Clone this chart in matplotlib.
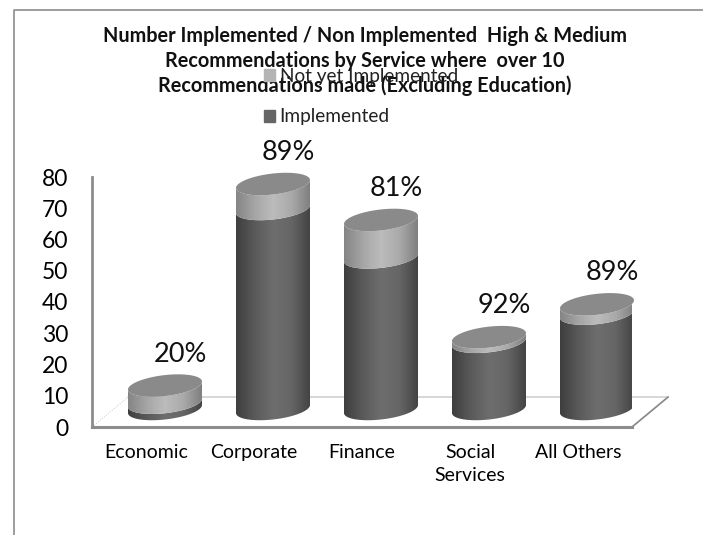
import matplotlib
matplotlib.use("Agg")
import matplotlib.pyplot as plt
import numpy as np
from matplotlib.patches import Patch, PathPatch
from matplotlib.path import Path

plt.rcParams["font.family"] = ["Lato", "DejaVu Sans"]

categories = ["Economic", "Corporate", "Finance", "Social\nServices", "All Others"]
implemented = [2, 64, 48.5, 21.5, 30.5]
not_implemented = [5.5, 8, 12, 1.5, 3]
percent_labels = ["20%", "89%", "81%", "92%", "89%"]
y_ticks = [0, 10, 20, 30, 40, 50, 60, 70, 80]

title = ("Number Implemented / Non Implemented  High & Medium\n"
         "Recommendations by Service where  over 10\n"
         "Recommendations made (Excluding Education)")

W, H = 703, 535
PX = 108.0  # pixels per category
PY = 250 / 80  # pixels per y unit
RX = 37 / PX
RY = 10.5 / PY
TILT = 4 / PY
DEPTH_X = 19 / PX
DEPTH_Y = 18 / PY

DARK = ["#3f3f3f", "#5a5a5a", "#6e6e6e", "#666666", "#444444"]
LIGHT = ["#858585", "#a5a5a5", "#bcbcbc", "#aaaaaa", "#808080"]
TOP = "#8a8a8a"


def shade_image(ax, colors, cx, y0, y1, clip):
    grey = [int(c[1:3], 16) / 255 for c in colors]
    ramp = np.interp(np.linspace(0, 1, 80), np.linspace(0, 1, len(grey)), grey)
    im = ax.imshow(ramp[None, :], cmap="gray", vmin=0, vmax=1, aspect="auto",
                   extent=(cx - RX, cx + RX, y0, y1), zorder=3)
    im.set_clip_path(clip)


def side_path(cx, y0, y1):
    # lower rim of y0 ellipse, then back over upper-side of y1's lower rim
    t = np.linspace(np.pi, 2 * np.pi, 60)
    xs = cx + RX * np.cos(t)
    low = RY * np.sin(t) + TILT * np.cos(t)
    x_all = np.r_[xs, xs[::-1]]
    y_all = np.r_[y0 + low, (y1 + low)[::-1]]
    return Path(np.column_stack([x_all, y_all]))


fig = plt.figure(figsize=(W / 100, H / 100), dpi=100)
ax = fig.add_axes([92 / W, 1 - 427 / H, 540 / W, 250 / H])
ax.set_facecolor("none")

# outer chart frame
fig.add_artist(plt.Line2D([14 / W, 14 / W, 1], [0, 1 - 10 / H, 1 - 10 / H],
                          color="#8c8c8c", lw=1.2))

# floor of the 3D plot
floor_dx = 2 * DEPTH_X * 0.95
floor_dy = 30 / PY
ax.plot([-0.5, 4.5, 4.5 + floor_dx, -0.5 + floor_dx],
        [0, 0, floor_dy, floor_dy], color="#c8c8c8", lw=1, clip_on=False, zorder=1)
ax.plot([-0.5, 4.5], [0, 0], color="#8c8c8c", lw=2.2, clip_on=False, zorder=2)
ax.plot([-0.5, -0.5 + floor_dx], [0, floor_dy], color="#c8c8c8", lw=0.7,
        ls=":", clip_on=False, zorder=1)
ax.plot([4.5, 4.5 + floor_dx], [0, floor_dy], color="#8c8c8c", lw=1.2,
        clip_on=False, zorder=2)
ax.plot([-0.5, -0.5], [0, 80], color="#8c8c8c", lw=2, clip_on=False, zorder=2)

for i, (imp, rest, label) in enumerate(zip(implemented, not_implemented, percent_labels)):
    cx = i + DEPTH_X
    base = DEPTH_Y
    mid = base + imp
    top = mid + rest

    clip = PathPatch(side_path(cx, base, mid), transform=ax.transData)
    shade_image(ax, DARK, cx, base - RY - TILT, mid + RY + TILT, clip)
    clip = PathPatch(side_path(cx, mid, top), transform=ax.transData)
    shade_image(ax, LIGHT, cx, mid - RY - TILT, top + RY + TILT, clip)

    t = np.linspace(0, 2 * np.pi, 120)
    ax.fill(cx + RX * np.cos(t), top + RY * np.sin(t) + TILT * np.cos(t),
            color=TOP, lw=0, zorder=4, clip_on=False)

    ax.annotate(label, (cx, top + RY), xytext=(11, 6), textcoords="offset points",
                ha="center", va="bottom", fontsize=19.5, color="#111111",
                annotation_clip=False, zorder=5)

ax.set_xlim(-0.5, 4.5)
ax.set_ylim(0, 80)
ax.set_xticks(range(len(categories)), categories)
ax.set_yticks(y_ticks)
ax.tick_params(axis="x", length=0, pad=12, labelsize=14)
ax.tick_params(axis="y", length=0, pad=17, labelsize=16.5)
for side in ax.spines.values():
    side.set_visible(False)
for tl in ax.get_xticklabels():
    tl.set_linespacing(1.45)
    tl.set_verticalalignment("top")

fig.text(365 / W, 1 - 61 / H, title, ha="center", va="center", fontsize=14.3,
         fontweight="bold", linespacing=1.3, color="#111111")

handles = [Patch(color="#b4b4b4", label="Not yet Implemented"),
           Patch(color="#666666", label="Implemented")]
fig.legend(handles=handles, loc="upper left", bbox_to_anchor=(254 / W, 1 - 58 / H),
           frameon=False, fontsize=13.7, labelspacing=1.25, handlelength=0.6,
           handleheight=0.6, handletextpad=0.25, borderpad=0, labelcolor="#222222")

fig.savefig("out.png", dpi=100)
